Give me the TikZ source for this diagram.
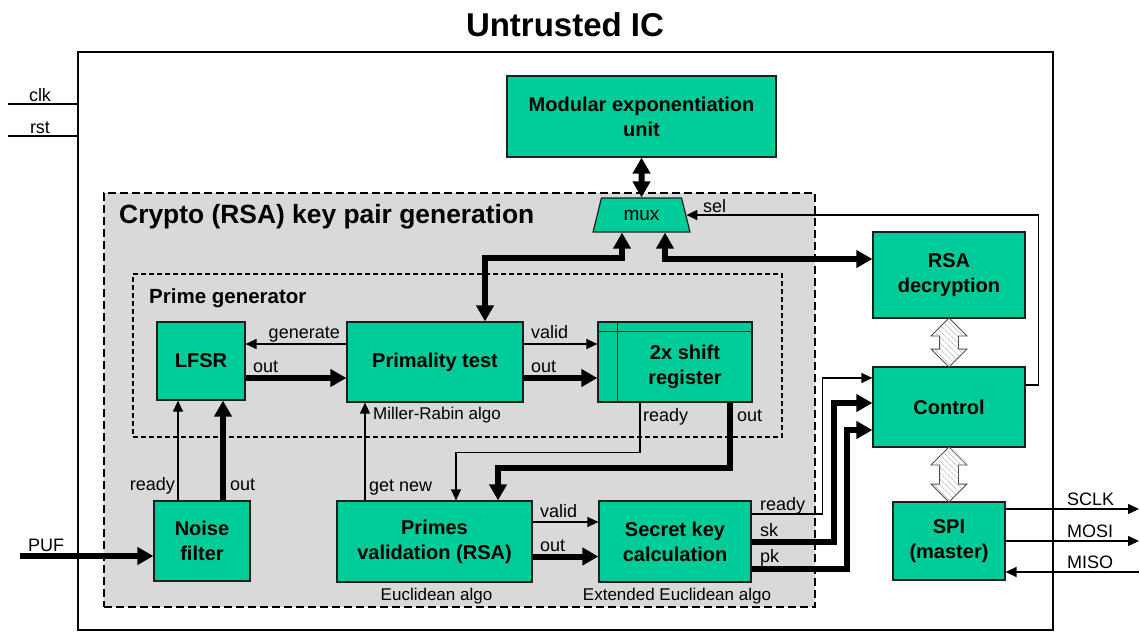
\documentclass[tikz,border=0pt]{standalone}
\usepackage{fontspec}
\setmainfont{Liberation Sans}
\usetikzlibrary{arrows.meta,shapes.geometric,shapes.arrows,patterns.meta,calc}

\definecolor{boxgreen}{HTML}{00CC99}
\definecolor{regiongray}{HTML}{D9D9D9}
\definecolor{edgegray}{HTML}{1E1E1E}

\tikzset{
  block/.style={draw=edgegray, line width=1.2pt, fill=boxgreen, align=center,
    inner sep=0pt, font=\fontsize{20}{25}\selectfont\bfseries},
  sig/.style={font=\fontsize{18}{20}\selectfont, inner sep=0pt},
  algonote/.style={font=\fontsize{17}{20}\selectfont, inner sep=0pt},
  wire/.style={line width=1.4pt, -{Triangle[length=11pt,width=10pt]}},
  bus/.style={line width=6pt, -{Triangle[length=16pt,width=17pt]}},
  busboth/.style={line width=6pt, {Triangle[length=16pt,width=17pt]}-{Triangle[length=16pt,width=17pt]}},
  hatcharrow/.style={double arrow, shape border rotate=90, double arrow head extend=8.5pt,
    inner sep=9pt, minimum width=35pt, draw=gray!60!black, line width=0.8pt, fill=white,
    postaction={pattern={Lines[angle=-45,distance=4pt,line width=0.6pt]}, pattern color=gray!70}},
}

\begin{document}
\begin{tikzpicture}[x=1pt,y=-1pt]
\useasboundingbox (0,0) rectangle (1140,632);

% chip title and outline
\node[font=\fontsize{33}{36}\selectfont\bfseries, anchor=base, inner sep=0pt] (title) at (565,36) {Untrusted IC};
\node[draw, line width=2pt, minimum width=975pt, minimum height=578pt, inner sep=0pt] (chip) at (565.5,341) {};

% clock and reset inputs
\coordinate (clkin) at (8,104);
\coordinate (rstin) at (8,136);
\draw[line width=1.2pt] (clkin) -- (clkin -| chip.west);
\draw[line width=1.2pt] (rstin) -- (rstin -| chip.west);
\node[sig, anchor=base] (lclk) at (40,101) {clk};
\node[sig, anchor=base] (lrst) at (40,133) {rst};

% key pair generation region
\node[draw, line width=2pt, dash pattern=on 8pt off 4pt, fill=regiongray,
      minimum width=711pt, minimum height=414pt, inner sep=0pt] (crypto) at (459.5,400) {};
\node[font=\fontsize{26.4}{29}\selectfont\bfseries, anchor=base west, inner sep=0pt] (lcrypto) at (119,223) {Crypto (RSA) key pair generation};

% prime generator region
\node[draw, line width=1.2pt, dash pattern=on 5pt off 3pt,
      minimum width=649pt, minimum height=163pt, inner sep=0pt] (primegen) at (457.5,355.5) {};
\node[font=\fontsize{20.5}{24}\selectfont\bfseries, anchor=base west, inner sep=0pt] (lprimegen) at (149,303) {Prime generator};

% blocks
\node[block, minimum width=269pt, minimum height=81pt] (modexp) at (641.5,116.5) {Modular exponentiation\\unit};
\node[draw=edgegray, line width=1.2pt, fill=boxgreen, trapezium, trapezium stretches=true,
      trapezium left angle=70, trapezium right angle=70,
      minimum width=97pt, minimum height=34pt, inner sep=0pt,
      font=\fontsize{19}{20}\selectfont] (mux) at (641.5,215) {mux};
\node[block, minimum width=152pt, minimum height=86pt] (rsadec) at (949,275) {RSA\\decryption};
\node[block, minimum width=152pt, minimum height=80pt] (control) at (949,407) {Control};
\node[block, minimum width=112pt, minimum height=78pt] (spi) at (949,541) {SPI\\(master)};
\node[block, minimum width=88pt, minimum height=78pt] (lfsr) at (201,361) {LFSR};
\node[block, minimum width=176pt, minimum height=80pt] (prim) at (435,362) {Primality test};
\node[block, minimum width=154pt, minimum height=80pt] (shift) at (675,362) {};
\draw[line width=1.2pt, edgegray] ([xshift=20pt]shift.north west) -- ([xshift=20pt]shift.south west);
\draw[line width=1.2pt, edgegray] ([yshift=-10pt]shift.north west) -- ([yshift=-10pt]shift.north east);
\node[font=\fontsize{20}{25}\selectfont\bfseries, align=center, inner sep=0pt] (shifttxt) at (685,367) {2x shift\\register};
\node[block, minimum width=96pt, minimum height=80pt] (noise) at (202,541) {Noise\\filter};
\node[block, minimum width=195pt, minimum height=81pt] (pval) at (434.5,541.5) {Primes\\validation (RSA)};
\node[block, minimum width=152pt, minimum height=81pt] (skc) at (675,541.5) {Secret key\\calculation};

% hatched links to the control unit
\node[hatcharrow, minimum height=49pt] (link1) at ($(rsadec.south)!0.5!(control.north)$) {};
\node[hatcharrow, minimum height=55pt] (link2) at ($(control.south)!0.5!(spi.north)$) {};

% exponentiation unit sharing through the mux
\draw[busboth] (mux.north) -- (modexp.south);
\draw[busboth] ([xshift=50pt]prim.north) -- ++(0,-63) -| ([xshift=-19.5pt]mux.south);
\draw[busboth] ([xshift=23.5pt]mux.south) |- ([yshift=16pt]rsadec.west);
\draw[wire] ([yshift=22pt]control.east) -- ++(13,0) |- (mux.east);
\node[sig, anchor=base west] (lsel) at (703,212) {sel};

% LFSR and primality test
\draw[wire] ([yshift=18pt]prim.west) -- ([yshift=18pt]prim.west -| lfsr.east);
\draw[bus] ([yshift=-16pt]prim.west -| lfsr.east) -- ([yshift=-16pt]prim.west);
\node[sig, anchor=base east] (lgen) at (340,338) {generate};
\node[sig, anchor=base west] (llfsrout) at (253,372) {out};

% primality test to shift register
\draw[wire] ([yshift=18pt]prim.east) -- ([yshift=18pt]prim.east -| shift.west);
\draw[bus] ([yshift=-16pt]prim.east) -- ([yshift=-16pt]prim.east -| shift.west);
\node[sig, anchor=base west] (lpvalid) at (531,338) {valid};
\node[sig, anchor=base west] (lpout) at (531,372) {out};
\node[algonote, anchor=base west] (lmr) at (373,419) {Miller-Rabin algo};

% noise filter feeding the LFSR
\coordinate (pufin) at (20,556);
\draw[bus] (pufin) -- (pufin -| noise.west);
\node[sig, anchor=base west] (lpuf) at (28,551) {PUF};
\draw[wire] ([xshift=-24pt]noise.north) -- ([xshift=-24pt]noise.north |- lfsr.south);
\draw[bus] ([xshift=21pt]noise.north) -- ([xshift=21pt]noise.north |- lfsr.south);
\node[sig, anchor=base east] (lnready) at (175,490) {ready};
\node[sig, anchor=base west] (lnout) at (230,490) {out};

% primes validation
\draw[wire] ([xshift=-69.5pt]pval.north) -- ([xshift=-69.5pt]pval.north |- prim.south);
\node[sig, anchor=base west] (lgetnew) at (369,491) {get new};
\draw[wire] ([xshift=-35pt]shift.south) -- ++(0,50) -| ([xshift=21.5pt]pval.north);
\draw[bus] ([xshift=55pt]shift.south) -- ++(0,65) -| ([xshift=63.5pt]pval.north);
\node[sig, anchor=base west] (lsready) at (643,421) {ready};
\node[sig, anchor=base west] (lsout) at (737,421) {out};
\draw[wire] ([yshift=19.5pt]pval.east) -- ([yshift=19.5pt]pval.east -| skc.west);
\draw[bus] ([yshift=-15pt]pval.east) -- ([yshift=-15pt]pval.east -| skc.west);
\node[sig, anchor=base west] (lvvalid) at (540,517) {valid};
\node[sig, anchor=base west] (lvout) at (540,551) {out};
\node[algonote, anchor=base] (leuc) at (436.5,600) {Euclidean algo};
\node[algonote, anchor=base] (lxeuc) at (677,600) {Extended Euclidean algo};

% secret key calculation to control
\draw[wire] ([yshift=27.5pt]skc.east) -- ++(71,0) |- ([yshift=29pt]control.west);
\draw[bus] (skc.east) -- ++(82,0) |- ([yshift=4pt]control.west);
\draw[bus] ([yshift=-27.5pt]skc.east) -- ++(95,0) |- ([yshift=-23pt]control.west);
\node[sig, anchor=base west] (lkready) at (760,510) {ready};
\node[sig, anchor=base west] (lksk) at (760,536) {sk};
\node[sig, anchor=base west] (lkpk) at (760,562) {pk};

% SPI bus pins
\coordinate (sclkout) at (1139,509);
\coordinate (mosiout) at (1139,541);
\coordinate (misoin) at (1139,572);
\draw[wire] (spi.east |- sclkout) -- (sclkout);
\draw[wire] (spi.east |- mosiout) -- (mosiout);
\draw[wire] (misoin) -- (spi.east |- misoin);
\node[sig, anchor=base west] (lsclk) at (1067,505) {SCLK};
\node[sig, anchor=base west] (lmosi) at (1067,537) {MOSI};
\node[sig, anchor=base west] (lmiso) at (1067,568) {MISO};
\end{tikzpicture}
\end{document}
